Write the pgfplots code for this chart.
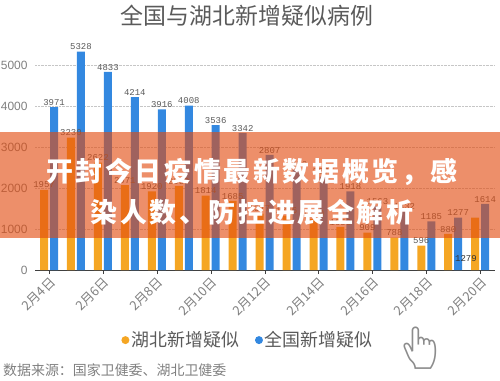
\documentclass[border=0pt]{standalone}
\usepackage{pgfplots}
\pgfplotsset{compat=1.18}
\usepackage{fontspec}
\setmainfont{Liberation Sans}
\newfontfamily\cjk{Noto Sans CJK SC}
\newfontfamily\cjkbold{Noto Sans CJK SC Black}[LetterSpace=10]
\newfontfamily\mono{Liberation Mono}
\newfontfamily\emoji{Noto Emoji}
\definecolor{hbor}{RGB}{245,166,35}
\definecolor{qgbl}{RGB}{51,136,224}
\definecolor{banner}{RGB}{226,75,15}
\definecolor{txtgray}{RGB}{90,90,90}
\begin{document}
\begin{tikzpicture}[x=1bp,y=1bp]
\useasboundingbox (0,0) rectangle (500,380);
\begin{axis}[
  at={(35bp,110bp)}, anchor=south west,
  scale only axis, width=460bp, height=246bp,
  xmin=-0.52, xmax=16.55, ymin=0, ymax=6000,
  ybar=2bp, bar width=8bp,
  axis x line*=bottom, axis y line*=left,
  axis line style={-}, x axis line style={black!75},
  y axis line style={draw=none},
  ytick={0,1000,...,5000}, ymajorgrids,
  major grid style={densely dotted, gray!45},
  ytick style={draw=none},
  xtick={0,2,...,16},
  xticklabels={2月4日,2月6日,2月8日,2月10日,2月12日,2月14日,2月16日,2月18日,2月20日},
  xtick style={black!75}, major tick length=4bp, tick align=outside,
  xticklabel style={font=\cjk\fontsize{13}{13}\selectfont, text=gray, rotate=45, anchor=north east, inner sep=1bp},
  yticklabel style={font=\fontsize{12}{12}\selectfont, text=gray},
  /pgf/number format/assume math mode=true,
  /pgf/number format/1000 sep={},
  nodes near coords, point meta=explicit symbolic,
  every node near coord/.append style={font=\mono\fontsize{9}{9}\selectfont, text=txtgray, inner sep=1.5bp},
  legend style={at={(0.463,-0.285)}, anchor=center, draw=none, fill=none, legend columns=2,
    font=\cjk\fontsize{18}{18}\selectfont, text=txtgray,
    /tikz/every even column/.append style={column sep=14bp}},
  legend image code/.code={\fill[#1] (0bp,0bp) circle (4bp);},
]
\addplot[fill=hbor, draw=none] coordinates {
(0,1957) [1957] (1,3230) [3230] (2,2622) [2622] (3,2071) [2071] (4,1920) [1920]
(5,2050) [2050] (6,1814) [1814] (7,1685) [1685] (8,1377) [1377] (9,1326) [1326]
(10,1250) [1250] (11,1050) [1050] (12,909) [909] (13,788) [788] (14,596) [596]
(15,880) [880] (16,1279) [\relax]};
\addlegendentry{湖北新增疑似}
\addplot[fill=qgbl, draw=none] coordinates {
(0,3971) [3971] (1,5328) [5328] (2,4833) [4833] (3,4214) [4214] (4,3916) [3916]
(5,4008) [4008] (6,3536) [3536] (7,3342) [3342] (8,2807) [2807] (9,2450) [2450]
(10,2277) [2277] (11,1918) [1918] (12,1563) [1563] (13,1432) [1432] (14,1185) [1185]
(15,1277) [1277] (16,1614) [1614]};
\addlegendentry{全国新增疑似}
\node[font=\mono\fontsize{9}{9}\selectfont, text=black!80] at (axis cs:15.47,290) {1279};
\end{axis}
\fill[banner, opacity=0.62] (0,142) rectangle (500,248);
\node[text=white, font=\cjkbold\fontsize{27}{27}\selectfont] at (252,208) {开封今日疫情最新数据概览，感};
\node[text=white, font=\cjkbold\fontsize{27}{27}\selectfont] at (252,168) {染人数、防控进展全解析};
\node[text=txtgray, font=\cjk\fontsize{23}{23}\selectfont] at (247,364) {全国与湖北新增疑似病例};
\node[anchor=west, text=gray, font=\cjk\fontsize{14}{14}\selectfont, inner sep=0pt] at (3,10) {数据来源：国家卫健委、湖北卫健委};
\node[text=gray!90, font=\emoji\fontsize{42}{42}\selectfont] at (420,32) {👆};
\end{tikzpicture}
\end{document}
